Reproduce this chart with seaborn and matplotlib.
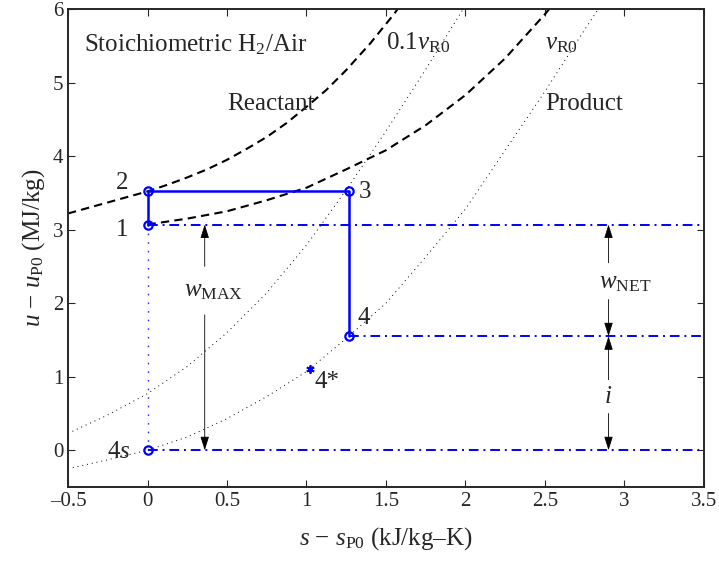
import numpy as np
import pandas as pd
import matplotlib
matplotlib.use('Agg')
import matplotlib.pyplot as plt
from matplotlib.ticker import FuncFormatter
import seaborn as sns

# curves (s - s_P0, u - u_P0)
react_hi_s = [-0.5, -0.25, 0.0, 0.125, 0.25, 0.375, 0.5, 0.625, 0.75, 0.875, 1.0, 1.125, 1.25, 1.4, 1.55, 1.6]
react_hi_u = [3.22, 3.37, 3.52, 3.61, 3.71, 3.82, 3.95, 4.10, 4.26, 4.45, 4.67, 4.90, 5.17, 5.53, 5.93, 6.08]
react_lo_s = [0.0, 0.25, 0.5, 0.75, 1.0, 1.25, 1.5, 1.75, 2.0, 2.25, 2.5, 2.55]
react_lo_u = [3.07, 3.15, 3.25, 3.40, 3.57, 3.82, 4.08, 4.42, 4.83, 5.33, 5.93, 6.06]
prod_lo_s = [-0.5, -0.25, 0.0, 0.25, 0.5, 0.75, 1.0, 1.25, 1.5, 1.75, 2.0, 2.25, 2.5, 2.75, 2.86]
prod_lo_u = [-0.25, -0.13, 0.0, 0.18, 0.43, 0.73, 1.07, 1.52, 2.0, 2.63, 3.28, 4.08, 4.88, 5.72, 6.08]
prod_hi_s = [-0.5, -0.25, 0.0, 0.25, 0.5, 0.75, 1.0, 1.25, 1.5, 1.75, 2.0]
prod_hi_u = [0.23, 0.48, 0.77, 1.14, 1.60, 2.14, 2.79, 3.54, 4.34, 5.18, 6.05]

# cycle states
cyc_s = [0.0, 0.0, 1.27, 1.27]
cyc_u = [3.07, 3.52, 3.52, 1.55]
cyc_lbl = ['1', '2', '3', '4']
s_4s, u_4s = 0.0, 0.0
s_4star, u_4star = 1.02, 1.10

plt.rcParams['mathtext.fontset'] = 'custom'
plt.rcParams['mathtext.rm'] = 'Liberation Serif'
plt.rcParams['mathtext.it'] = 'Liberation Serif:italic'
sns.set_style('ticks', {'xtick.direction': 'in', 'ytick.direction': 'in'})
plt.rcParams['font.family'] = ['Liberation Serif', 'DejaVu Serif']
plt.rcParams['axes.linewidth'] = 1.4

fig, ax = plt.subplots(figsize=(7.19, 5.65), dpi=100)
fig.subplots_adjust(left=0.0946, right=0.979, top=0.984, bottom=0.138)

dot = (0, (1, 4))
for xs, ys in [(prod_lo_s, prod_lo_u), (prod_hi_s, prod_hi_u)]:
    sns.lineplot(x=xs, y=ys, ax=ax, color='k', lw=0.7, linestyle=dot,
                 sort=False, estimator=None)
for xs, ys in [(react_hi_s, react_hi_u), (react_lo_s, react_lo_u)]:
    sns.lineplot(x=xs, y=ys, ax=ax, color='k', lw=1.5, linestyle=(0, (4, 2.5)),
                 sort=False, estimator=None)

blue = (0, 0, 1)
dashdot = (0, (5, 2.5, 1, 2.5))
# reference levels
ax.plot([cyc_s[0], 3.5], [cyc_u[0], cyc_u[0]], color=blue, lw=1.4, ls=dashdot)
ax.plot([cyc_s[3], 3.5], [cyc_u[3], cyc_u[3]], color=blue, lw=1.4, ls=dashdot)
ax.plot([s_4s, 3.5], [u_4s, u_4s], color=blue, lw=1.4, ls=dashdot)
ax.plot([s_4s, cyc_s[0]], [u_4s, cyc_u[0]], color=blue, lw=1.0, ls=(0, (1.2, 5)), alpha=0.8)

sns.lineplot(x=cyc_s, y=cyc_u, ax=ax, color=blue, lw=1.8, sort=False, estimator=None,
             marker='o', markersize=6, markerfacecolor='none',
             markeredgecolor=blue, markeredgewidth=1.6)
ax.plot([s_4s], [u_4s], 'o', ms=6, mfc='none', mec=blue, mew=1.6)
ax.plot([s_4star], [u_4star], marker=(6, 2, 0), ms=6, color=blue, mew=1.3, ls='none')

# arrows
ap = dict(arrowstyle='-|>,head_length=0.7,head_width=0.22', mutation_scale=12,
          color='k', lw=0.6, shrinkA=0, shrinkB=0)
ax.annotate('', xy=(0.36, 3.07), xytext=(0.36, 2.50), arrowprops=ap)
ax.annotate('', xy=(0.36, 0.0), xytext=(0.36, 1.84), arrowprops=ap)
ax.annotate('', xy=(2.9, 3.07), xytext=(2.9, 2.55), arrowprops=ap)
ax.annotate('', xy=(2.9, 1.55), xytext=(2.9, 2.05), arrowprops=ap)
ax.annotate('', xy=(2.9, 1.55), xytext=(2.9, 0.96), arrowprops=ap)
ax.annotate('', xy=(2.9, 0.0), xytext=(2.9, 0.50), arrowprops=ap)

fs = 18
ax.text(0.23, 2.17, r'$w_{\mathrm{MAX}}$', fontsize=fs, ha='left', va='center')
ax.text(2.84, 2.27, r'$w_{\mathrm{NET}}$', fontsize=fs, ha='left', va='center')
ax.text(2.9, 0.73, r'$i$', fontsize=fs, ha='center', va='center')

ax.text(-0.40, 5.43, r'Stoichiometric H$_2$/Air', fontsize=fs, va='baseline')
ax.text(0.50, 4.63, 'Reactant', fontsize=fs, va='baseline')
ax.text(2.50, 4.63, 'Product', fontsize=fs, va='baseline')
ax.text(1.50, 5.45, r'0.1$v_{\mathrm{R0}}$', fontsize=fs, va='baseline')
ax.text(2.50, 5.45, r'$v_{\mathrm{R0}}$', fontsize=fs, va='baseline')

lbl_pos = [(-0.16, 3.0), (-0.16, 3.63), (1.37, 3.51), (1.36, 1.80)]
for t, (x, y) in zip(cyc_lbl, lbl_pos):
    ax.text(x, y, t, fontsize=fs, ha='center', va='center')
ax.text(-0.18, -0.02, r'4$s$', fontsize=fs, ha='center', va='center')
ax.text(1.13, 0.93, '4*', fontsize=fs, ha='center', va='center')

ax.set_xlim(-0.5, 3.5)
ax.set_ylim(-0.5, 6)
ax.set_xticks(np.arange(-0.5, 3.51, 0.5))
ax.set_yticks(np.arange(0, 7, 1))
ax.xaxis.set_major_formatter(FuncFormatter(lambda v, p: ('%g' % v).replace('-', '–')))
ax.tick_params(labelsize=15, length=5, width=0.8, top=True, right=True, direction='in')
ax.set_xlabel(r'$s$ $-$ $s_{\mathrm{P0}}$ (kJ/kg–K)', fontsize=fs, labelpad=10)
ax.set_ylabel(r'$u$ $-$ $u_{\mathrm{P0}}$ (MJ/kg)', fontsize=fs, labelpad=4)

plt.savefig('out.png', dpi=100)
